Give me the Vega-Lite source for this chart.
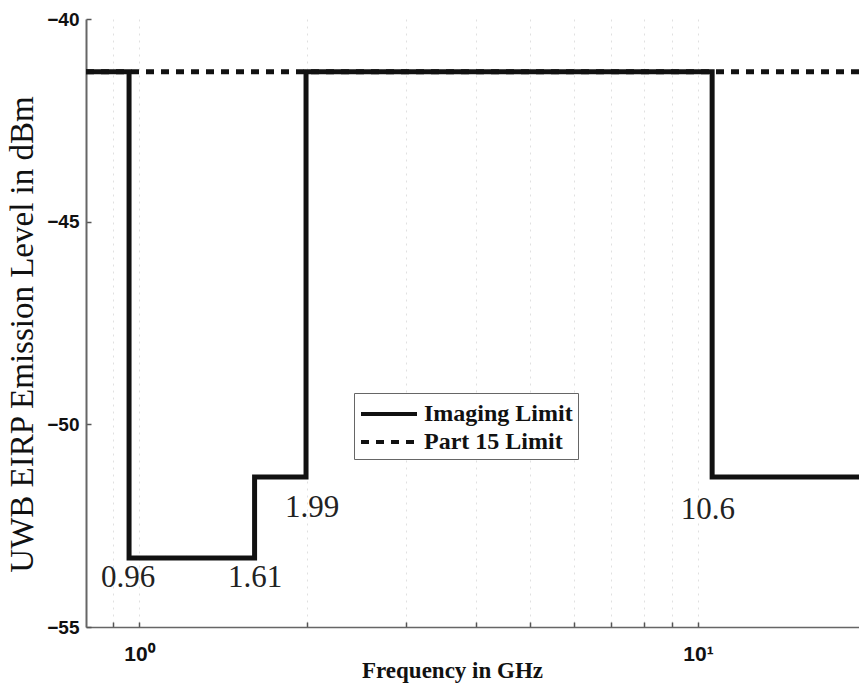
{
  "$schema": "https://vega.github.io/schema/vega-lite/v6.json",
  "autosize": {"type": "none"},
  "padding": {"left": 86, "top": 19, "right": 0, "bottom": 60},
  "width": 773,
  "height": 608,
  "background": "white",
  "config": {
    "view": {"stroke": null},
    "legend": {
      "orient": "none",
      "legendX": 268,
      "legendY": 374,
      "strokeColor": "#666",
      "fillColor": "white",
      "padding": 5,
      "labelFont": "Liberation Serif",
      "labelFontSize": 24,
      "labelFontWeight": "bold",
      "labelColor": "#111",
      "symbolType": "M-1,0H3",
      "symbolSize": 784,
      "symbolStrokeWidth": 4,
      "symbolStrokeColor": "#111",
      "rowPadding": 0,
      "labelOffset": 33
    }
  },
  "datasets": {
    "limits": [
      {"series": "Part 15 Limit", "f": 0.804, "v": -41.3},
      {"series": "Part 15 Limit", "f": 19.41, "v": -41.3},
      {"series": "Imaging Limit", "f": 0.804, "v": -41.3},
      {"series": "Imaging Limit", "f": 0.96, "v": -53.3},
      {"series": "Imaging Limit", "f": 1.61, "v": -51.3},
      {"series": "Imaging Limit", "f": 1.99, "v": -41.3},
      {"series": "Imaging Limit", "f": 10.6, "v": -51.3},
      {"series": "Imaging Limit", "f": 19.41, "v": -51.3}
    ],
    "labels": [
      {"label": "0.96", "f": 0.956, "v": -53.8},
      {"label": "1.61", "f": 1.613, "v": -53.8},
      {"label": "1.99", "f": 2.04, "v": -52.07},
      {"label": "10.6", "f": 10.42, "v": -52.12}
    ]
  },
  "layer": [
    {
      "data": {"name": "limits"},
      "mark": {"type": "line", "interpolate": "step-after", "strokeWidth": 5, "color": "#111", "clip": true, "strokeCap": "butt"},
      "encoding": {
        "x": {
          "field": "f", "type": "quantitative",
          "scale": {"type": "log", "domain": [0.804, 19.41], "nice": false},
          "axis": {
            "values": [0.9, 1, 2, 3, 4, 5, 6, 7, 8, 9, 10],
            "labelExpr": "datum.value == 1 ? '10⁰' : (datum.value == 10 ? '10¹' : '')",
            "labelFont": "Liberation Sans", "labelFontWeight": "bold", "labelFontSize": 21, "labelColor": "#111",
            "labelBaseline": "top", "labelPadding": 21,
            "tickSize": -5, "tickColor": "#555", "tickWidth": 1.5,
            "domainColor": "#666", "domainWidth": 1.5,
            "grid": true, "gridColor": "#ccc", "gridDash": [2, 5], "gridWidth": 1, "gridOpacity": 0.6,
            "title": "Frequency in GHz",
            "titleFont": "Liberation Serif", "titleFontWeight": "bold", "titleFontSize": 23, "titleColor": "#111",
            "titleX": 366, "titleY": 43, "titleBaseline": "middle", "titleAlign": "center"
          }
        },
        "y": {
          "field": "v", "type": "quantitative",
          "scale": {"domain": [-55, -40], "nice": false, "zero": false},
          "axis": {
            "values": [-55, -50, -45, -40],
            "labelFont": "Liberation Sans", "labelFontWeight": "bold", "labelFontSize": 19, "labelColor": "#111",
            "labelPadding": 12,
            "tickSize": -5, "tickColor": "#555", "tickWidth": 1.5,
            "domainColor": "#666", "domainWidth": 2,
            "grid": false,
            "title": "UWB EIRP Emission Level in dBm",
            "titleFont": "Liberation Serif", "titleFontWeight": "normal", "titleFontSize": 33, "titleColor": "#111",
            "titleAngle": 270, "titleX": -64, "titleY": 315, "titleAlign": "center", "titleBaseline": "middle"
          }
        },
        "strokeDash": {
          "field": "series", "type": "nominal",
          "scale": {"domain": ["Imaging Limit", "Part 15 Limit"], "range": [[1, 0], [8, 7]]},
          "legend": {"title": null}
        }
      }
    },
    {
      "data": {"name": "labels"},
      "mark": {"type": "text", "font": "Liberation Serif", "fontSize": 31, "color": "#222", "align": "center", "baseline": "middle"},
      "encoding": {
        "x": {"field": "f", "type": "quantitative"},
        "y": {"field": "v", "type": "quantitative"},
        "text": {"field": "label"}
      }
    }
  ]
}
